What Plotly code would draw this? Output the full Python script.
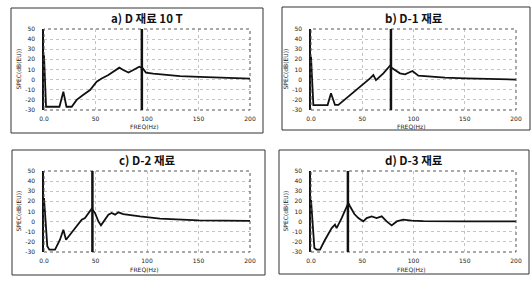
import plotly.graph_objects as go

# ---------------- data ----------------
titles = ["a) D 재료 10 T", "b) D-1 재료", "c) D-2 재료", "d) D-3 재료"]

a_freq = [0, 1, 2, 8, 15, 18.8, 21.8, 26.9, 31.7, 38.2, 44.7, 51.1, 56, 62.5, 69, 73.1, 77, 82, 86.7, 92.5, 95.8, 99, 106, 119, 132, 151, 175, 200]
a_spec = [24, 0, -26.8, -26.8, -26.8, -11.9, -26.8, -26.8, -20, -15, -10.3, -2, 1.2, 4.5, 8.5, 11.8, 9.5, 7, 9.5, 12.8, 11.2, 7, 6, 4.5, 3.5, 2.8, 2, 1]

b_freq = [0, 1, 2.3, 10, 16.2, 19.5, 23.4, 26.7, 36.4, 49.4, 57.6, 60.8, 63.4, 70.6, 77, 79.3, 86.8, 91.7, 99, 104.7, 117.7, 130.7, 151, 175, 200]
b_spec = [22.6, 0, -25.1, -25.1, -25.1, -13.5, -25, -25, -17, -5.9, 1.2, 4.5, -0.5, 6.2, 13.7, 11.2, 6.2, 5.2, 8.5, 3.9, 2.9, 1.9, 1.3, 0.6, 0]

c_freq = [0, 1.5, 3.2, 5.2, 10.7, 15.5, 18.8, 21.4, 25.2, 31.7, 36.6, 39.8, 43, 46.3, 49.5, 52.8, 55.3, 59.2, 62.5, 65.7, 69, 72.2, 77, 93.2, 112.6, 150, 200]
c_spec = [23.3, 0, -24.4, -27.7, -27.7, -17.9, -8, -17.9, -13, -4.7, 1.9, 3.5, 8.5, 12.8, 8.5, 0.2, -3.7, 1.9, 6.9, 8.5, 6.9, 9.2, 7.5, 5.2, 2.9, 1.3, 0.8]

d_freq = [0, 1.2, 3.3, 5.5, 8.8, 13.7, 20.2, 23.4, 25, 29.9, 33.2, 36.4, 38, 42.3, 46.2, 51, 54.3, 59.2, 64, 69, 73.8, 78.7, 83.6, 90, 98.2, 109.6, 150, 200]
d_spec = [21.6, 0, -26, -27.7, -27.7, -17.9, -6.4, -3, -6.4, 3.5, 11.8, 18.4, 15.2, 7.5, 3.5, 0.2, 3.5, 5.2, 3.5, 5.2, 0.2, -3.7, 0.2, 1.9, 0.9, 0.4, 0.3, 0.3]

marker_freqs = [95, 78, 47, 36]   # thick vertical marker line per panel

x_tickvals = [0, 50, 100, 150, 200]
x_ticktext = ["0.0", "50", "100", "150", "200"]
y_tickvals = [-30, -20, -10, 0, 10, 20, 30, 40, 50]
y_ticktext = ["-30", "-20", "-10", "0", "10", "20", "30", "40", "50"]

x_title = "FREQ(Hz)"
y_title = "SPEC(dB(EU))"

series = [(a_freq, a_spec), (b_freq, b_spec), (c_freq, c_spec), (d_freq, d_spec)]

# ---------------- layout geometry (pixels) ----------------
W, H = 532, 284
plot_px = [(44, 250, 29, 110), (311, 516, 29, 110), (44, 250, 171, 252), (311, 516, 171, 252)]
frame_px = [(11, 263, 8, 133), (282, 530, 7, 130), (12, 265, 150, 275), (279, 529, 150, 274)]

def px_x(p):
    return p / W

def px_y(p):
    return 1 - p / H

fig = go.Figure()
layout = dict(width=W, height=H, margin=dict(l=0, r=0, t=0, b=0),
              paper_bgcolor="white", plot_bgcolor="white", showlegend=False)
shapes = []
annotations = []
font_fam = "Noto Sans CJK KR, Noto Sans, DejaVu Sans"

for i, ((fx, fy), (x0, x1, y0, y1)) in enumerate(zip(series, plot_px)):
    n = "" if i == 0 else str(i + 1)
    xa, ya = "x" + n, "y" + n
    fig.add_trace(go.Scatter(x=fx, y=fy, mode="lines", xaxis=xa, yaxis=ya,
                             line=dict(color="#111", width=1.8), hoverinfo="skip"))
    layout["xaxis" + n] = dict(domain=[px_x(x0), px_x(x1)], anchor=ya, range=[0, 200],
                               tickvals=x_tickvals, ticktext=x_ticktext,
                               tickfont=dict(size=6, color="#222", family="DejaVu Sans"),
                               ticks="", showline=False, zeroline=False,
                               showgrid=True, gridcolor="#c4c4c4", griddash="dot", gridwidth=1,
                               ticklabelstandoff=4, automargin=False, fixedrange=True)
    layout["yaxis" + n] = dict(domain=[px_y(y1), px_y(y0)], anchor=xa, range=[-30, 50],
                               tickvals=y_tickvals, ticktext=y_ticktext,
                               tickfont=dict(size=6, color="#222", family="DejaVu Sans"),
                               ticks="", showline=True, linecolor="#111", linewidth=1.5,
                               zeroline=False, showgrid=True, gridcolor="#c4c4c4",
                               griddash="dot", gridwidth=1, ticklabelstandoff=6,
                               automargin=False, fixedrange=True)
    # dotted plot-area border
    shapes.append(dict(type="rect", xref="paper", yref="paper",
                       x0=px_x(x0), x1=px_x(x1), y0=px_y(y1), y1=px_y(y0),
                       line=dict(color="#555", width=1, dash="dot")))
    # thick vertical marker
    shapes.append(dict(type="line", xref=xa, yref=ya + " domain",
                       x0=marker_freqs[i], x1=marker_freqs[i], y0=0, y1=1,
                       line=dict(color="#111", width=2.5)))
    # panel frame
    fx0, fx1, fy0, fy1 = frame_px[i]
    shapes.append(dict(type="rect", xref="paper", yref="paper",
                       x0=px_x(fx0), x1=px_x(fx1), y0=px_y(fy1), y1=px_y(fy0),
                       line=dict(color="#333", width=1)))
    cx = (x0 + x1) / 2
    # title
    annotations.append(dict(text="<b>" + titles[i] + "</b>", xref="paper", yref="paper",
                            x=px_x(cx), y=px_y(y0 - 11), showarrow=False,
                            xanchor="center", yanchor="middle",
                            font=dict(size=11.5, color="#111", family=font_fam)))
    # x title
    annotations.append(dict(text=x_title, xref="paper", yref="paper",
                            x=px_x(cx - 3), y=px_y(y1 + 17), showarrow=False,
                            xanchor="center", yanchor="middle",
                            font=dict(size=6, color="#222", family="DejaVu Sans")))
    # y title
    annotations.append(dict(text=y_title, xref="paper", yref="paper",
                            x=px_x(x0 - 26), y=px_y((y0 + y1) / 2), showarrow=False,
                            textangle=-90, xanchor="center", yanchor="middle",
                            font=dict(size=6, color="#222", family="DejaVu Sans")))

layout["shapes"] = shapes
layout["annotations"] = annotations
fig.update_layout(**layout)
fig.write_html("out.html", config={"displayModeBar": False},
               post_script="document.body.style.margin='0';document.body.style.overflow='hidden';")
